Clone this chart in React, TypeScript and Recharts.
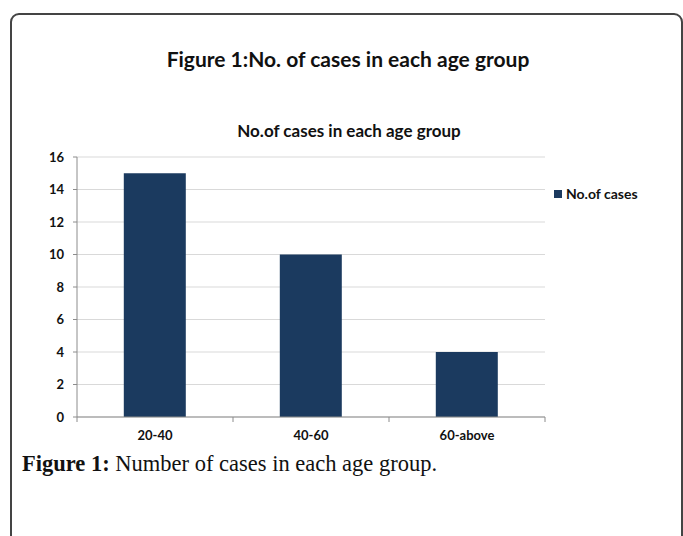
import { BarChart, Bar, XAxis, YAxis, CartesianGrid } from "recharts";

const categories = ["20-40", "40-60", "60-above"];
const cases = [15, 10, 4];
const yTicks = [0, 2, 4, 6, 8, 10, 12, 14, 16];
const seriesName = "No.of cases";

const BAR_COLOR = "#1b3a5f";
const AXIS_COLOR = "#8c8c8c";
const SANS = "Lato, 'Open Sans', sans-serif";
const X_TICK_SIZE = 6;
const X_TICK_MARGIN = 8;

const chartData = categories.map((c, i) => ({ group: c, value: cases[i] }));

// category label plus the small tick marks on the band edges (Excel style)
function CategoryTick(props: any) {
  const { x, y, payload, index } = props;
  const half = payload.offset ?? 0;
  const axisY = y - X_TICK_SIZE - X_TICK_MARGIN;
  const isLast = index === categories.length - 1;
  return (
    <g>
      <line x1={x - half} x2={x - half} y1={axisY} y2={axisY + 5} stroke={AXIS_COLOR} />
      {isLast && (
        <line x1={x + half} x2={x + half} y1={axisY} y2={axisY + 5} stroke={AXIS_COLOR} />
      )}
      <text
        x={x}
        y={y}
        dy="0.71em"
        textAnchor="middle"
        fill="#111"
        fontSize={13}
        fontWeight={700}
        fontFamily={SANS}
      >
        {payload.value}
      </text>
    </g>
  );
}

export default function App() {
  return (
    <div
      style={{
        position: "absolute",
        left: 0,
        top: 0,
        width: 683,
        height: 536,
        overflow: "hidden",
        background: "#fff",
      }}
    >
      {/* frame */}
      <div
        style={{
          position: "absolute",
          left: 10,
          top: 13,
          width: 669,
          height: 600,
          border: "2px solid #444",
          borderRadius: 9,
        }}
      />
      <div
        style={{
          position: "absolute",
          top: 46,
          left: 0,
          width: 696,
          textAlign: "center",
          fontFamily: SANS,
          fontWeight: 700,
          fontSize: 21,
          color: "#111",
        }}
      >
        Figure 1:No. of cases in each age group
      </div>
      <div
        style={{
          position: "absolute",
          top: 120,
          left: 0,
          width: 698,
          textAlign: "center",
          fontFamily: SANS,
          fontWeight: 700,
          fontSize: 17,
          color: "#111",
        }}
      >
        No.of cases in each age group
      </div>

      <div style={{ position: "absolute", left: 0, top: 0 }}>
        <BarChart
          width={683}
          height={536}
          data={chartData}
          margin={{ top: 157, right: 138, bottom: 89, left: 37 }}
          barCategoryGap="30%"
        >
          <CartesianGrid vertical={false} stroke="#d9d9d9" />
          <XAxis
            dataKey="group"
            height={30}
            stroke={AXIS_COLOR}
            tickLine={false}
            tickSize={X_TICK_SIZE}
            tickMargin={X_TICK_MARGIN}
            interval={0}
            tick={<CategoryTick />}
          />
          <YAxis
            width={40}
            domain={[0, 16]}
            ticks={yTicks}
            stroke={AXIS_COLOR}
            tickSize={4}
            tick={{ fill: "#111", fontSize: 13, fontWeight: 700, fontFamily: SANS }}
            tickMargin={9}
          />
          <Bar
            dataKey="value"
            name={seriesName}
            fill={BAR_COLOR}
            isAnimationActive={false}
          />
        </BarChart>
      </div>

      {/* legend */}
      <div
        style={{
          position: "absolute",
          left: 554,
          top: 185,
          display: "flex",
          alignItems: "center",
          fontFamily: SANS,
          fontWeight: 700,
          fontSize: 14,
          color: "#111",
        }}
      >
        <span
          style={{
            display: "inline-block",
            width: 8,
            height: 8,
            background: BAR_COLOR,
            marginRight: 4,
          }}
        />
        {seriesName}
      </div>

      {/* caption */}
      <div
        style={{
          position: "absolute",
          left: 22,
          top: 451,
          fontFamily: "'Liberation Serif', 'DejaVu Serif', serif",
          fontSize: 22.5,
          color: "#111",
        }}
      >
        <b>Figure 1:</b> Number of cases in each age group.
      </div>
    </div>
  );
}
